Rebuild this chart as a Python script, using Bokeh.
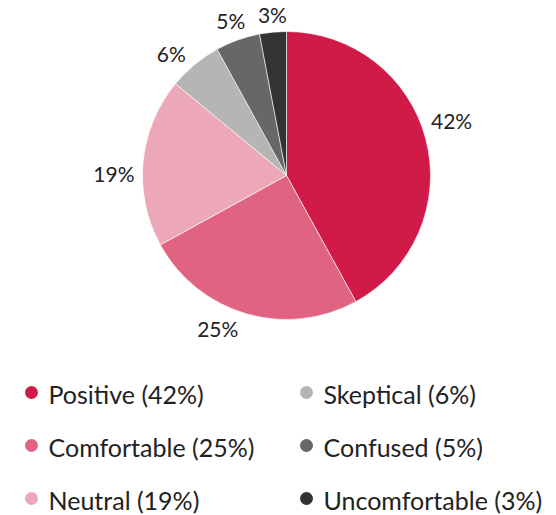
import math
from bokeh.plotting import figure
from bokeh.models import Range1d, ColumnDataSource
from bokeh.core.properties import value
from bokeh.embed import file_html
from bokeh.resources import INLINE

categories = ["Positive", "Comfortable", "Neutral", "Skeptical", "Confused", "Uncomfortable"]
percents = [42, 25, 19, 6, 5, 3]
colors = ["#D01A48", "#E06482", "#ECA8B8", "#B5B5B5", "#666766", "#333333"]

# layout tweaks for the outside labels (degrees, clockwise)
label_nudge_deg = [-4.0, 8.0, -4.7, -3.7, 0.0, 0.4]

FONT = "Lato"
W, H = 556, 515

p = figure(width=W, height=H, output_backend="svg", toolbar_location=None,
           x_range=Range1d(0, W), y_range=Range1d(0, H), min_border=0)
p.axis.visible = False
p.grid.visible = False
p.outline_line_color = None
p.background_fill_color = "white"

cx, cy = 286, H - 175
R = 144

total = sum(percents)
starts, ends, cums = [], [], 0
for v in percents:
    a0 = math.pi / 2 - 2 * math.pi * cums / total
    cums += v
    a1 = math.pi / 2 - 2 * math.pi * cums / total
    starts.append(a0)
    ends.append(a1)

src = ColumnDataSource(dict(start=starts, end=ends, color=colors))
p.wedge(x=cx, y=cy, radius=R, start_angle="start", end_angle="end", direction="clock",
        fill_color="color", line_color="white", line_width=0.6, source=src)

# pie labels
lab_fs = 21
lx, ly, lt = [], [], []
for a0, a1, v, nd in zip(starts, ends, percents, label_nudge_deg):
    mid = (a0 + a1) / 2 - math.radians(nd)
    dx, dy = math.cos(mid), math.sin(mid)
    t = f"{v}%"
    w = lab_fs * (0.55 * (len(t) - 1) + 0.85)
    h = 16
    d = 152 + abs(dx) * w / 2 + abs(dy) * h / 2
    lx.append(cx + d * dx)
    ly.append(cy + d * dy)
    lt.append(t)
p.text(x=lx, y=ly, text=lt, text_font=value(FONT), text_font_size=f"{lab_fs}px",
       text_align="center", text_baseline="middle", text_color="#222222")

# legend
col_x = [31, 306]
row_y = [H - 392, H - 445, H - 498]
mx, my, tx, ty, tt = [], [], [], [], []
for i, (c, v) in enumerate(zip(categories, percents)):
    col, row = divmod(i, 3)
    mx.append(col_x[col])
    my.append(row_y[row])
    tx.append(col_x[col] + 17)
    ty.append(row_y[row] - 1)
    tt.append(f"{c} ({v}%)")
p.scatter(x=mx, y=my, size=13, color=colors, line_color=None)
p.text(x=tx, y=ty, text=tt, text_font=value(FONT), text_font_size="25px",
       text_align="left", text_baseline="middle", text_color="#222222")

open("out.html", "w").write(file_html(p, INLINE))
